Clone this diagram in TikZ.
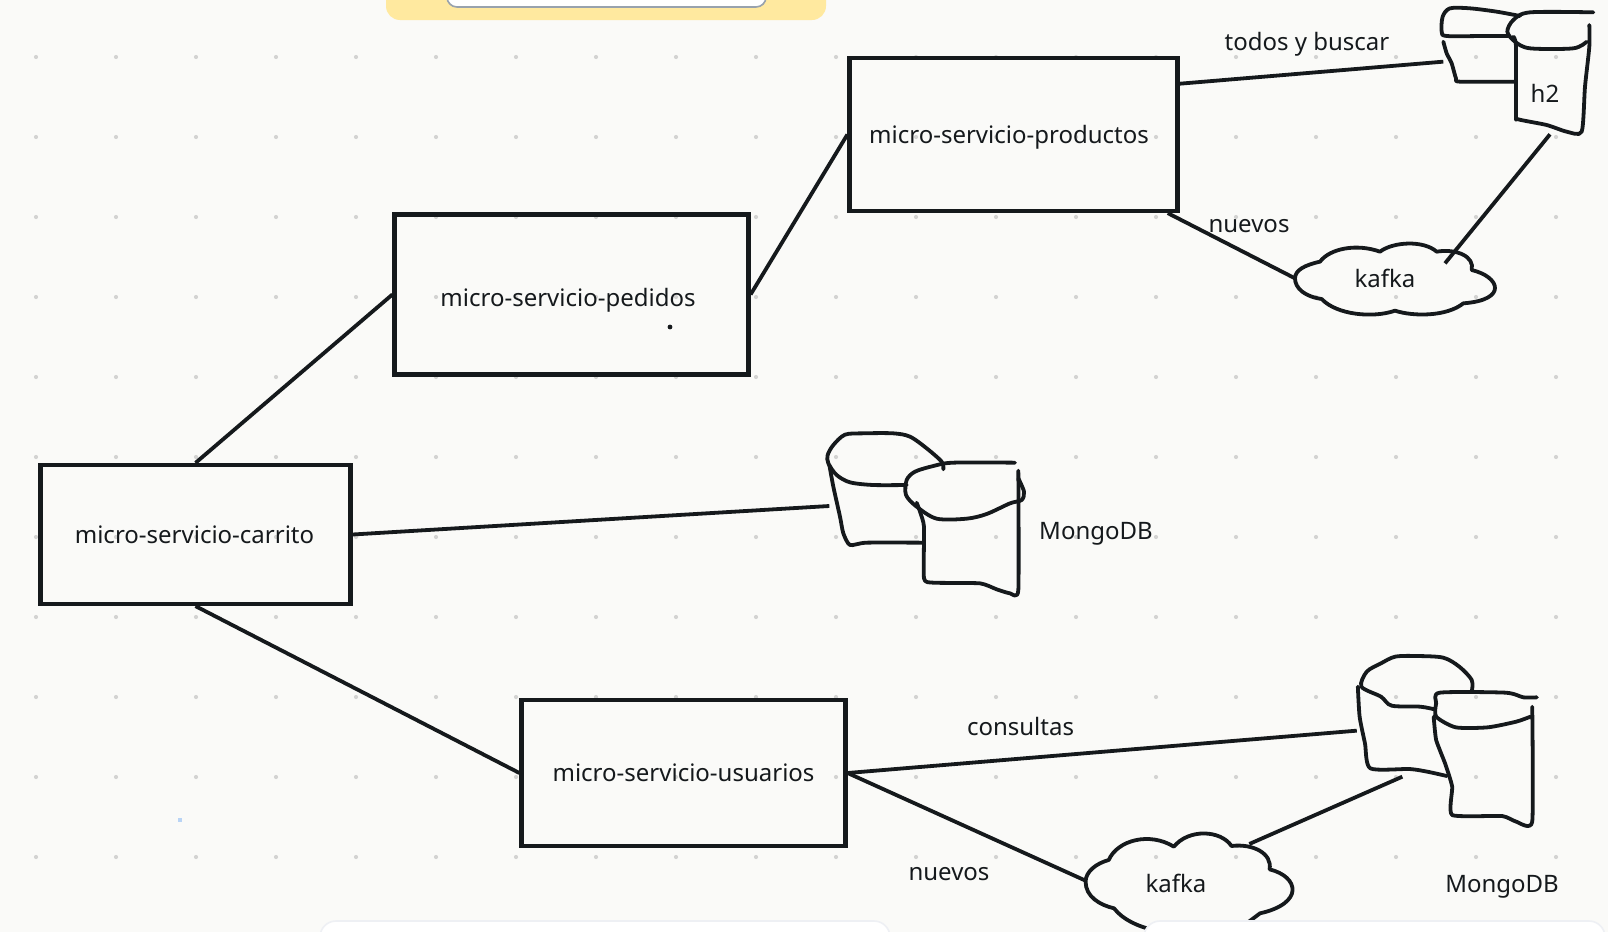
\documentclass[tikz,border=0pt]{standalone}
\usepackage{fontspec}
\setmainfont{Noto Sans}
\usepackage{xcolor}
\definecolor{paper}{HTML}{FAFAF8}
\definecolor{griddot}{HTML}{D3D3D2}
\definecolor{ink}{HTML}{15191C}
\definecolor{banner}{HTML}{FFE99F}
\definecolor{bannerEdge}{HTML}{98A2AD}
\definecolor{panelEdge}{HTML}{EEF0F4}
\definecolor{speck}{HTML}{B9D4F5}
\newcommand{\boxtext}[3]{\hspace*{#1}\raisebox{#2}[\height][\depth]{#3}}
\tikzset{
  servicebox/.style={draw=ink, line width=2.1pt, text=ink, inner sep=0pt},
  sketch/.style={draw=ink, line width=1.9pt, line cap=round, line join=round},
  wire/.style={draw=ink, line width=1.9pt},
  caption/.style={text=ink, inner sep=0pt},
}
\begin{document}
\begin{tikzpicture}[x=0.5pt, y=-0.5pt, font=\fontsize{12}{14}\selectfont]

%---------------- page ----------------%
\clip (0,0) rectangle (1608,932);
\fill[paper] (0,0) rectangle (1608,932);
\foreach \x in {36,116,...,1556} {
\foreach \y in {57,137,...,857} {
\fill[griddot] (\x,\y) circle (1.05pt);
}
}
\fill[speck] (178,818) rectangle (182,822);
\fill[ink] (670,327) circle (1.2pt);

%---------------- services ----------------%
\node[servicebox, minimum width=164pt, minimum height=76.5pt] (productos) at (1013.5,134.5) {\boxtext{-4.5pt}{-1.5pt}{micro-servicio-productos}};
\node[servicebox, minimum width=177pt, minimum height=80pt] (pedidos) at (571.5,294.5) {\boxtext{-3.5pt}{-3pt}{micro-servicio-pedidos}};
\node[servicebox, minimum width=155pt, minimum height=69.5pt] (carrito) at (195.5,534.5) {\boxtext{-1pt}{0pt}{micro-servicio-carrito}};
\node[servicebox, minimum width=162pt, minimum height=73pt] (usuarios) at (683.5,773) {\boxtext{0pt}{0pt}{micro-servicio-usuarios}};

%---------------- store top right (h2) ----------------%
\begin{scope}[shift={(1150,0)}, scale=1/3]
\draw[sketch] plot[smooth, tension=0.5] coordinates {(1110,48) (1040,35) (960,25) (900,25) (878,50) (875,95) (890,108) (1000,108) (1075,108)};
\draw[sketch] plot[smooth, tension=0.5] coordinates {(1330,37) (1140,37) (1090,60) (1072,95) (1095,125) (1140,145) (1270,145) (1310,125)};
\draw[sketch] plot[smooth, tension=0.4] coordinates {(1318,75) (1318,140) (1305,260) (1295,395) (1250,395) (1190,375) (1105,358) (1098,345) (1098,140) (1090,110)};
\draw[sketch] plot[smooth, tension=0.4] coordinates {(880,125) (890,160) (905,190) (918,235) (930,245) (1095,245)};
\coordinate (h2In) at (880,185);
\coordinate (h2Out) at (1200,403);
%---- cloud
\draw[sketch] (435,835) .. controls (435,810) and (465,795) .. (510,785)
  .. controls (540,745) and (620,730) .. (690,755)
  .. controls (730,725) and (820,720) .. (860,755)
  .. controls (920,745) and (975,770) .. (965,810)
  .. controls (1050,830) and (1075,900) .. (940,910)
  .. controls (890,950) and (790,950) .. (735,932)
  .. controls (670,955) and (560,945) .. (515,897)
  .. controls (465,890) and (435,865) .. (435,835);
\coordinate (kafkaAIn) at (435,835);
\coordinate (kafkaAOut) at (885,790);
\end{scope}

%---------------- store middle ----------------%
\begin{scope}[shift={(800,420)}, scale=1/3]
\draw[sketch] plot[smooth, tension=0.5] coordinates {(430,148) (425,125) (380,85) (330,50) (280,40) (190,40) (135,44) (100,75) (83,105) (85,130) (110,165) (150,187) (220,195) (320,195)};
\draw[sketch] plot[smooth, tension=0.5] coordinates {(645,128) (460,128) (400,138) (345,155) (320,180) (318,225) (350,260) (410,296) (500,296) (560,282) (630,250) (665,240) (672,215) (655,175)};
\draw[sketch] plot[smooth, tension=0.3] coordinates {(655,152) (655,510) (630,520) (590,508) (540,490) (400,488) (372,475) (372,320) (360,275) (350,248)};
\draw[sketch] plot[smooth, tension=0.4] coordinates {(88,135) (100,200) (120,290) (130,340) (150,375) (200,368) (370,368)};
\coordinate (mongoAIn) at (88,258);
\end{scope}

%---------------- store bottom right ----------------%
\begin{scope}[shift={(1050,640)}, xscale=0.3559, yscale=1/3]
\draw[sketch] plot[smooth, tension=0.5] coordinates {(1185,155) (1185,120) (1150,80) (1105,53) (1030,48) (970,50) (930,70) (890,95) (875,140) (930,170) (960,197) (1040,200) (1080,208)};
\draw[sketch] plot[smooth, tension=0.4] coordinates {(1368,172) (1330,172) (1280,158) (1095,158) (1085,190) (1085,230) (1140,262) (1230,262) (1310,245) (1350,230)};
\draw[sketch] plot[smooth, tension=0.3] coordinates {(1355,200) (1355,545) (1310,545) (1270,528) (1130,525) (1130,440) (1110,370) (1085,300) (1078,230)};
\draw[sketch] plot[smooth, tension=0.4] coordinates {(865,140) (870,230) (885,310) (900,385) (1010,387) (1060,395) (1115,408)};
\coordinate (mongoBIn) at (862,272);
\coordinate (mongoBOut) at (990,410);
%---- cloud
\draw[sketch] (290,870) .. controls (250,860) and (205,840) .. (180,805)
  .. controls (140,795) and (100,770) .. (100,725)
  .. controls (100,695) and (130,670) .. (165,660)
  .. controls (190,600) and (280,575) .. (348,620)
  .. controls (390,565) and (480,570) .. (510,618)
  .. controls (570,610) and (625,640) .. (617,688)
  .. controls (700,710) and (715,790) .. (590,820)
  .. controls (565,840) .. (540,860);
\coordinate (kafkaBIn) at (100,722);
\coordinate (kafkaBOut) at (560,612);
\end{scope}

%---------------- links ----------------%
\draw[wire] (carrito.north) -- (pedidos.west);
\draw[wire] (pedidos.east) -- (productos.west);
\draw[wire] (carrito.east) -- (mongoAIn);
\draw[wire] (carrito.south) -- (usuarios.west);
\draw[wire] (productos.17.7) -- (h2In);
\draw[wire] (productos.-27.9) -- (kafkaAIn);
\draw[wire] (kafkaAOut) -- (h2Out);
\draw[wire] (usuarios.east) -- (mongoBIn);
\draw[wire] (usuarios.east) -- (kafkaBIn);
\draw[wire] (kafkaBOut) -- (mongoBOut);

%---------------- labels ----------------%
\node[caption] (buscarText) at (1307,44) {todos y buscar};
\node[caption] (nuevosAText) at (1249,226.5) {nuevos};
\node[caption] (kafkaAText) at (1385,278) {kafka};
\node[caption] (h2Text) at (1545,93) {h2};
\node[caption] (mongoAText) at (1096,534) {MongoDB};
\node[caption] (consultasText) at (1020.5,726) {consultas};
\node[caption] (nuevosBText) at (949,874) {nuevos};
\node[caption] (kafkaBText) at (1176,883) {kafka};
\node[caption] (mongoBText) at (1502,887) {MongoDB};

%---------------- panels at the page edge ----------------%
\fill[banner, rounded corners=7pt] (386,-30) rectangle (826,20);
\filldraw[fill=white, draw=bannerEdge, line width=0.8pt, rounded corners=5pt] (447,-30) rectangle (766,7);
\filldraw[fill=white, draw=panelEdge, line width=0.8pt, rounded corners=8pt] (320,921) rectangle (890,960);
\filldraw[fill=white, draw=panelEdge, line width=0.8pt, rounded corners=8pt] (1144,921) rectangle (1605,960);

\end{tikzpicture}
\end{document}
